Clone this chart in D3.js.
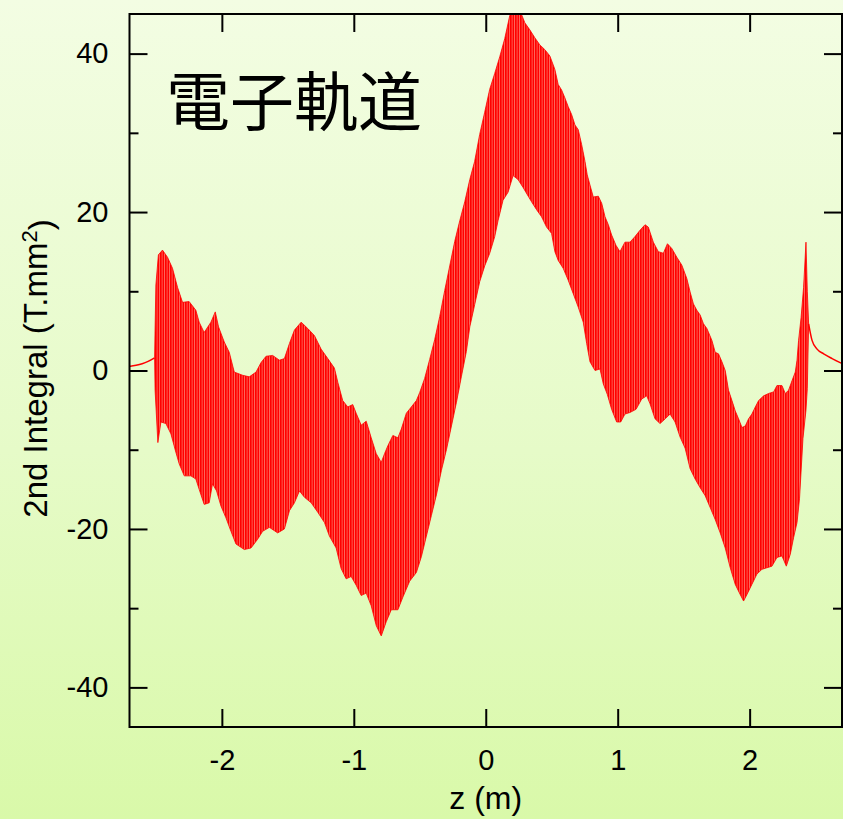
<!DOCTYPE html>
<html><head><meta charset="utf-8">
<script src="https://cdn.jsdelivr.net/npm/d3@7/dist/d3.min.js"></script>
<style>
html,body{margin:0;padding:0;}
body{width:843px;height:819px;overflow:hidden;}
svg{display:block;}
</style></head>
<body>
<svg id="chart" width="843" height="819"></svg>
<script>
// ---------- data ----------
const zDomain = [-2.7, 2.7];
const yDomain = [-45, 45];
const xTickValues = [-2, -1, 0, 1, 2];
const xTickLabels = ["-2", "-1", "0", "1", "2"];
const yMajorTicks = [-40, -20, 0, 20, 40];
const yTickLabels = ["-40", "-20", "0", "20", "40"];
const yMinorTicks = [-30, -10, 10, 30];
const titleText = "電子軌道";
const xLabel = "z (m)";
const yLabelMain = "2nd Integral (T.mm";
const yLabelSup = "2";

// upper envelope of the oscillating trajectory
const upperZ = [-2.510,-2.500,-2.481,-2.450,-2.412,-2.374,-2.336,-2.298,-2.248,-2.197,-2.172,-2.134,-2.083,-2.050,-2.025,-1.982,-1.944,-1.906,-1.843,-1.792,-1.741,-1.703,-1.665,-1.615,-1.564,-1.526,-1.488,-1.450,-1.399,-1.349,-1.298,-1.248,-1.197,-1.147,-1.121,-1.084,-1.046,-1.008,-0.982,-0.944,-0.906,-0.868,-0.830,-0.792,-0.767,-0.742,-0.704,-0.666,-0.640,-0.602,-0.564,-0.526,-0.501,-0.463,-0.425,-0.387,-0.349,-0.311,-0.273,-0.235,-0.197,-0.159,-0.121,-0.084,-0.046,-0.008,0.030,0.068,0.106,0.144,0.182,0.205,0.258,0.296,0.334,0.372,0.410,0.448,0.486,0.524,0.549,0.575,0.600,0.625,0.651,0.676,0.701,0.727,0.752,0.769,0.790,0.815,0.853,0.879,0.904,0.929,0.954,0.987,1.017,1.055,1.093,1.131,1.169,1.207,1.232,1.270,1.308,1.346,1.377,1.410,1.448,1.486,1.524,1.549,1.574,1.600,1.625,1.650,1.676,1.714,1.739,1.764,1.790,1.815,1.840,1.866,1.891,1.916,1.942,1.967,1.992,2.017,2.043,2.068,2.106,2.144,2.182,2.207,2.245,2.270,2.295,2.321,2.346,2.359,2.371,2.390,2.409,2.427,2.437,2.447];
const upperV = [1.6,10.8,14.6,15.2,14.3,12.9,10.5,8.6,8.7,7.6,6.1,4.8,6.1,7.4,5.5,3.6,2.3,-0.2,-0.6,-0.8,-0.2,1.0,1.8,1.9,1.3,1.5,3.4,5.1,6.1,5.3,4.4,2.7,1.5,0.3,-1.5,-3.8,-4.6,-4.3,-5.4,-6.9,-6.4,-8.5,-10.5,-11.6,-10.5,-9.5,-8.2,-8.5,-7.4,-5.4,-4.6,-3.8,-2.8,-1.0,1.4,3.9,6.8,10.1,13.2,16.3,18.9,21.3,24.1,26.4,29.8,32.6,35.5,37.5,39.6,41.9,44.8,45.5,45.5,43.9,43.0,42.0,41.1,40.5,39.7,38.0,36.1,35.4,34.4,33.3,32.3,31.0,30.4,28.5,26.4,24.7,23.4,21.9,22.0,21.1,19.4,18.4,17.1,15.8,15.0,16.2,16.2,16.9,17.7,18.4,18.1,16.2,15.0,14.8,16.0,15.4,14.3,13.3,11.6,9.9,8.4,7.6,7.0,5.9,5.3,3.8,2.3,2.1,1.1,0.0,-2.5,-3.8,-5.1,-6.1,-7.2,-7.0,-6.1,-5.5,-4.6,-3.8,-3.2,-2.9,-2.7,-1.9,-1.9,-2.9,-2.5,-1.3,-0.2,1.3,3.8,6.7,10.5,16.2,10.0,5.9];

// lower envelope of the oscillating trajectory
const lowerZ = [-2.510,-2.506,-2.485,-2.462,-2.424,-2.386,-2.349,-2.323,-2.285,-2.235,-2.197,-2.172,-2.134,-2.096,-2.071,-2.040,-2.007,-1.969,-1.931,-1.893,-1.830,-1.779,-1.729,-1.691,-1.640,-1.577,-1.526,-1.488,-1.450,-1.412,-1.374,-1.323,-1.273,-1.222,-1.185,-1.134,-1.096,-1.058,-1.020,-0.982,-0.944,-0.906,-0.868,-0.830,-0.792,-0.754,-0.716,-0.666,-0.628,-0.577,-0.526,-0.488,-0.450,-0.412,-0.374,-0.336,-0.298,-0.260,-0.222,-0.185,-0.147,-0.121,-0.084,-0.046,-0.008,0.030,0.068,0.093,0.131,0.169,0.207,0.245,0.283,0.329,0.347,0.385,0.423,0.461,0.499,0.524,0.549,0.587,0.625,0.663,0.701,0.739,0.765,0.790,0.828,0.866,0.891,0.921,0.954,0.992,1.023,1.055,1.093,1.139,1.182,1.220,1.245,1.283,1.321,1.360,1.397,1.435,1.473,1.511,1.549,1.587,1.625,1.663,1.701,1.739,1.777,1.815,1.853,1.891,1.929,1.954,1.979,2.017,2.055,2.093,2.131,2.169,2.207,2.245,2.278,2.308,2.333,2.359,2.378,2.404,2.427,2.437,2.447];
const lowerV = [1.6,-2.5,-9.1,-6.5,-6.7,-8.0,-10.3,-11.8,-13.3,-13.3,-13.7,-15.0,-16.9,-16.7,-14.3,-15.2,-17.1,-18.6,-20.3,-21.9,-22.6,-22.4,-21.3,-20.3,-19.8,-20.5,-20.0,-17.7,-16.7,-15.2,-16.0,-16.7,-17.9,-19.2,-20.9,-22.4,-25.0,-26.3,-26.0,-27.1,-28.4,-28.1,-29.7,-32.2,-33.5,-31.7,-30.2,-30.2,-28.6,-26.6,-25.5,-23.5,-20.9,-18.3,-15.7,-12.6,-10.0,-7.0,-4.0,-0.8,2.4,5.5,8.3,11.2,13.2,14.8,16.9,18.9,21.5,22.5,24.6,24.1,23.1,21.8,21.3,20.3,19.4,18.1,17.3,15.0,13.9,12.9,11.4,9.7,8.0,6.1,3.4,1.1,0.0,0.2,-1.7,-3.0,-4.9,-6.5,-6.5,-5.5,-5.3,-4.9,-3.6,-3.2,-4.2,-6.1,-6.7,-6.1,-5.5,-6.5,-8.4,-9.8,-12.4,-13.7,-14.8,-15.8,-17.3,-18.8,-20.5,-22.4,-24.9,-27.0,-28.3,-29.1,-28.3,-27.0,-25.7,-25.1,-24.9,-24.7,-23.6,-23.4,-24.7,-23.2,-21.1,-19.2,-16.2,-8.6,-5.0,-2.3,5.9];

// smooth field-free tails outside the oscillating region
const leftTailZ = [-2.710,-2.650,-2.604,-2.559,-2.510];
const leftTailV = [0.5,0.65,0.85,1.15,1.6];
const rightTailZ = [2.447,2.473,2.511,2.561,2.625,2.705];
const rightTailV = [5.9,3.8,2.7,2.1,1.5,0.85];

// ---------- layout ----------
const W = 843, H = 819;
const L = 129.5, R = 842, T = 14, B = 727;
const fontLatin = "'Liberation Sans', Arial, Helvetica, sans-serif";

const svg = d3.select("#chart");
const defs = svg.append("defs");

const grad = defs.append("linearGradient").attr("id","bg")
  .attr("x1","0").attr("y1","0").attr("x2","0").attr("y2","1");
grad.append("stop").attr("offset","0%").attr("stop-color","#f3fde3");
grad.append("stop").attr("offset","55%").attr("stop-color","#e6fbc8");
grad.append("stop").attr("offset","100%").attr("stop-color","#d9f9a9");

defs.append("clipPath").attr("id","plotclip")
  .append("rect").attr("x",L).attr("y",T).attr("width",R-L).attr("height",B-T);

const pat = defs.append("pattern").attr("id","stripes")
  .attr("patternUnits","userSpaceOnUse").attr("width",2.5).attr("height",10);
pat.append("rect").attr("width",2.5).attr("height",10).attr("fill","#ff0000");
pat.append("rect").attr("x",1.9).attr("width",0.6).attr("height",10).attr("fill","#ffd0b8").attr("opacity",0.75);

svg.append("rect").attr("width",W).attr("height",H).attr("fill","url(#bg)");

const x = d3.scaleLinear().domain(zDomain).range([L, R]);
const y = d3.scaleLinear().domain(yDomain).range([B, T]);

// ---------- data marks ----------
const plot = svg.append("g").attr("clip-path","url(#plotclip)");

const upperPts = upperZ.map((z,i)=>[z, upperV[i]]);
const lowerPts = lowerZ.map((z,i)=>[z, lowerV[i]]);
const band = upperPts.concat(lowerPts.slice().reverse());
const lineGen = d3.line().x(d=>x(d[0])).y(d=>y(d[1]));

plot.append("path")
  .attr("d", lineGen(band) + "Z")
  .attr("fill","url(#stripes)")
  .attr("stroke","#ff0000").attr("stroke-width",0.8).attr("stroke-linejoin","miter");

const tailLine = d3.line().x(d=>x(d[0])).y(d=>y(d[1])).curve(d3.curveMonotoneX);
plot.append("path").attr("d", tailLine(leftTailZ.map((z,i)=>[z,leftTailV[i]])))
  .attr("fill","none").attr("stroke","#ff0000").attr("stroke-width",1.5);
plot.append("path").attr("d", tailLine(rightTailZ.map((z,i)=>[z,rightTailV[i]])))
  .attr("fill","none").attr("stroke","#ff0000").attr("stroke-width",1.5);

// ---------- axes ----------
function styleAxis(g){
  g.select(".domain").remove();
  g.selectAll(".tick line").attr("stroke","#000").attr("stroke-width",2);
  g.selectAll(".tick text").attr("fill","#000")
    .style("font-family",fontLatin).style("font-size","29px");
}
svg.append("g").attr("transform",`translate(0,${B})`)
  .call(d3.axisBottom(x).tickValues(xTickValues).tickSize(-18).tickPadding(22)
    .tickFormat((d,i)=>xTickLabels[i]))
  .call(styleAxis);
svg.append("g").attr("transform",`translate(0,${T})`)
  .call(d3.axisTop(x).tickValues(xTickValues).tickSize(-18).tickFormat(""))
  .call(styleAxis);
svg.append("g").attr("transform",`translate(${L},0)`)
  .call(d3.axisLeft(y).tickValues(yMajorTicks).tickSize(-18).tickPadding(21)
    .tickFormat((d,i)=>yTickLabels[i]))
  .call(styleAxis);
svg.append("g").attr("transform",`translate(${L},0)`)
  .call(d3.axisLeft(y).tickValues(yMinorTicks).tickSize(-9).tickFormat(""))
  .call(styleAxis);
svg.append("g").attr("transform",`translate(${R},0)`)
  .call(d3.axisRight(y).tickValues(yMajorTicks).tickSize(-18).tickFormat(""))
  .call(styleAxis);
svg.append("g").attr("transform",`translate(${R},0)`)
  .call(d3.axisRight(y).tickValues(yMinorTicks).tickSize(-9).tickFormat(""))
  .call(styleAxis);

// frame
svg.append("rect").attr("x",L).attr("y",T).attr("width",R-L).attr("height",B-T)
  .attr("fill","none").attr("stroke","#000").attr("stroke-width",2);

// ---------- texts ----------
svg.append("text").attr("x",166).attr("y",125)
  .style("font-family","'Noto Sans CJK JP','Noto Sans CJK SC',sans-serif")
  .style("font-size","64px").attr("fill","#000").text(titleText);

svg.append("text").attr("x",(L+R)/2).attr("y",809).attr("text-anchor","middle")
  .style("font-family",fontLatin).style("font-size","32px").attr("fill","#000").text(xLabel);

const yl = svg.append("text").attr("transform",`translate(47,${(T+B)/2 - 2}) rotate(-90)`)
  .attr("text-anchor","middle")
  .style("font-family",fontLatin).style("font-size","33px").attr("fill","#000");
yl.append("tspan").text(yLabelMain);
yl.append("tspan").attr("dy","-0.45em").style("font-size","22px").text(yLabelSup);
yl.append("tspan").attr("dy","0.45em").text(")");
</script>
</body></html>
